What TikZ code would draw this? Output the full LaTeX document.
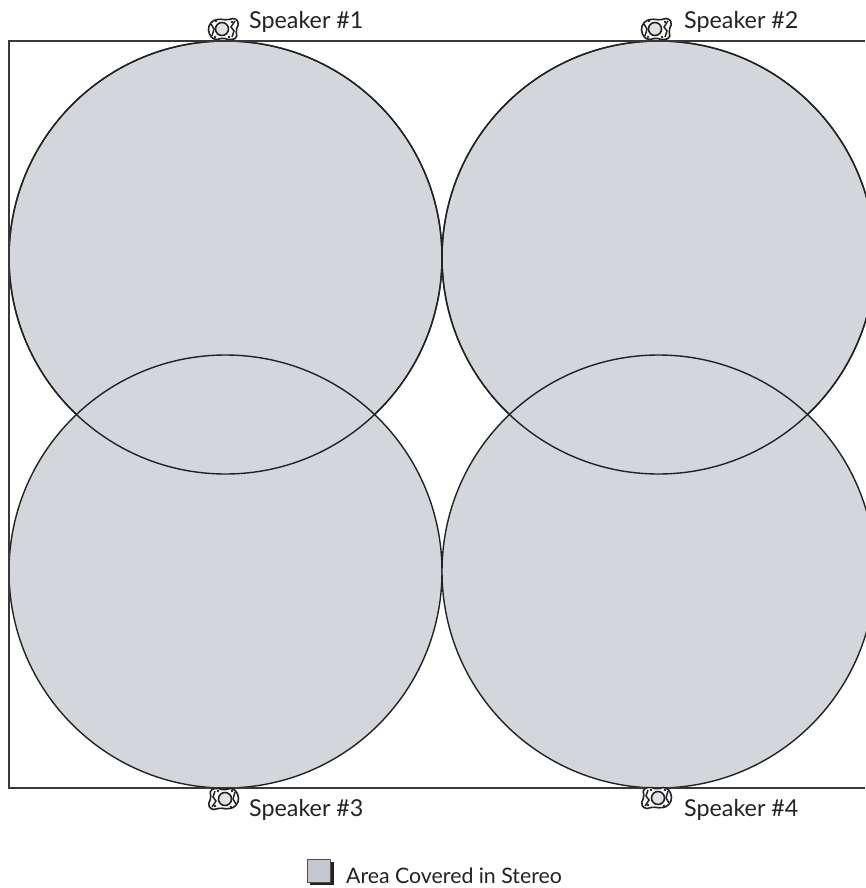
\documentclass[tikz,border=0pt]{standalone}
\usepackage{fontspec}
\setmainfont{Lato}
\usetikzlibrary{positioning}
\definecolor{ink}{HTML}{222222}
\definecolor{zonegray}{HTML}{D3D6DB}
\definecolor{keygray}{HTML}{C3C7CF}
\tikzset{
  pics/speakerbox/.style={code={
    \draw[ink,line width=1.6pt,fill=white,rounded corners=2pt] (-13,-7) -- (-15,1) -- (-11,8) -- (-4,10) -- (4,9) -- (12,11) -- (16,6) -- (13,-1) -- (14,-9) -- (7,-11) -- (0,-9) -- (-8,-11) -- cycle;
    \draw[ink,line width=1.6pt,fill=zonegray!70] (-1,0) circle (6.5);
    \draw[ink,line width=1.5pt] (-12,5) -- (-9,0) -- (-11,-7) (12,8) -- (8,2) -- (11,-2) -- (9,-8);
    \fill[ink] (-7,8) circle (1.4) (9,7) circle (1.4) (-8,-8) circle (1.4) (6,-8) circle (1.4);
  }}
}
\begin{document}
\begin{tikzpicture}[x=1pt,y=1pt,
  every node/.style={text=ink},
  zone/.style={circle,draw=ink,line width=1.4pt,fill=zonegray,minimum size=433pt,inner sep=0pt},
  ring/.style={circle,draw=ink,line width=1.4pt,minimum size=433pt,inner sep=0pt},
  lab/.style={anchor=base west,inner sep=0pt,font=\fontsize{23.3}{27}\selectfont},
  keylab/.style={anchor=base west,inner sep=0pt,font=\fontsize{21.3}{25}\selectfont}]
  \useasboundingbox (0,0) rectangle (865,-888);
  % coverage
  \node[zone] (zoneA) at (225.5,-257.5) {};
  \node[zone] (zoneB) at (658.5,-257.5) {};
  \node[zone] (zoneC) at (225.5,-571.5) {};
  \node[zone] (zoneD) at (658.5,-571.5) {};
  \node[ring] at (225.5,-257.5) {};
  \node[ring] at (658.5,-257.5) {};
  % room
  \draw[ink!90,line width=1.5pt] (865,-41) -- (9,-41) -- (9,-788) -- (865,-788);
  % speakers
  \pic at (223,-29) {speakerbox};
  \pic at (656,-29) {speakerbox};
  \pic[rotate=180] at (224,-799) {speakerbox};
  \pic[rotate=180] at (657,-798) {speakerbox};
  \node[lab] (spkA) at (249,-28.5) {Speaker \#1};
  \node[lab] (spkB) at (684,-28.5) {Speaker \#2};
  \node[lab] (spkC) at (249,-816.5) {Speaker \#3};
  \node[lab] (spkD) at (684,-816.5) {Speaker \#4};
  % legend
  \fill[ink] (310,-862) rectangle (333.5,-885);
  \node[draw=ink!80,line width=1pt,fill=keygray,minimum size=23pt,inner sep=0pt] (key) at (318.5,-870.5) {};
  \node[keylab] (keytext) at (346,-883.5) {Area Covered in Stereo};
\end{tikzpicture}
\end{document}
